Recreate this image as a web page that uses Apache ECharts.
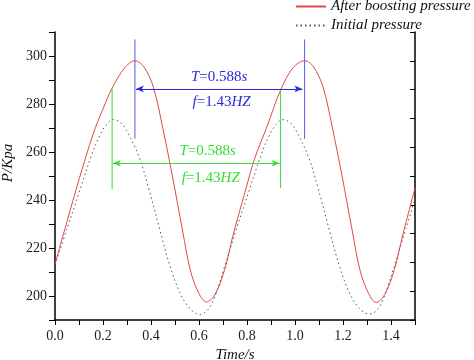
<!DOCTYPE html>
<html>
<head>
<meta charset="utf-8">
<script src="https://cdn.jsdelivr.net/npm/echarts@6/dist/echarts.min.js"></script>
<style>
  html, body { margin: 0; padding: 0; background: #fff; }
  #chart { width: 474px; height: 360px; }
</style>
</head>
<body>
<div id="chart"></div>
<script>
// pressure after boosting (red solid)
const boostTime = [0, 0.05, 0.10, 0.159, 0.20, 0.24, 0.29, 0.333, 0.37, 0.41, 0.45, 0.49, 0.531, 0.564, 0.60, 0.631, 0.666, 0.707, 0.741, 0.791, 0.831, 0.881, 0.941, 0.991, 1.04, 1.077, 1.117, 1.157, 1.197, 1.238, 1.271, 1.307, 1.338, 1.373, 1.414, 1.448, 1.5];
const boostPress = [213.3, 231, 248.5, 267.5, 278, 287, 295, 298, 295.5, 287, 269.5, 249.5, 227.5, 210.7, 201, 197.5, 200.5, 211, 225, 243, 257, 270, 286, 295, 298, 295.5, 287, 269.5, 249.5, 227.5, 210.7, 201, 197.3, 200.5, 211, 225, 245];

// initial pressure (grey dotted)
const initTime = [0, 0.05, 0.10, 0.15, 0.187, 0.215, 0.242, 0.27, 0.298, 0.35, 0.39, 0.437, 0.478, 0.52, 0.56, 0.603, 0.635, 0.665, 0.706, 0.756, 0.806, 0.856, 0.893, 0.921, 0.948, 0.976, 1.004, 1.056, 1.096, 1.143, 1.184, 1.226, 1.266, 1.309, 1.341, 1.371, 1.412, 1.462, 1.5];
const initPress = [213, 228, 243, 258, 267, 271.5, 273.5, 272.5, 269, 258, 245, 227.5, 212.8, 201.5, 195, 192.3, 194, 199.5, 212, 228, 243, 258, 267, 271.5, 273.5, 272.5, 269, 258, 245, 227.5, 212.8, 201.5, 195, 192.5, 194, 199.5, 212, 228, 240.5];

const legendNames = ["After boosting pressure", "Initial pressure"];
const xTickLabels = ["0.0", "0.2", "0.4", "0.6", "0.8", "1.0", "1.2", "1.4"];
const yTickLabels = [200, 220, 240, 260, 280, 300];

// period marks: [t, pressure] in data units
const blueVert = [[[0.333, 306.9], [0.333, 265.5]], [[1.04, 306.9], [1.04, 265.5]]];
const blueArrow = [[0.337, 286.3], [1.031, 286.3]];
const greenVert = [[[0.238, 286.3], [0.238, 244.5]], [[0.94, 286.3], [0.94, 245]]];
const greenArrow = [[0.241, 255.3], [0.936, 255.3]];
const blueText = [[0.684, 291.1], [0.694, 280.8]];
const greenText = [[0.636, 260.3], [0.649, 249.1]];
const periodLabel = "{i|T}{n|=0.588}{i|s}";
const freqLabel = "{i|f}{n|=1.43}{i|HZ}";

const FONT = "Liberation Serif";
const BLUE = "#2a2ad8";
const BLUE_LINE = "#5a5ae0";
const GREEN = "#33dd33";

const zip = (a, b) => a.map((v, i) => [v, b[i]]);

const richStyle = (color) => ({
  i: { fontStyle: "italic", fontFamily: FONT, fontSize: 15, color: color },
  n: { fontStyle: "normal", fontFamily: FONT, fontSize: 15, color: color },
});

const textPoints = (pts, color) =>
  pts.map((p, k) => ({
    coord: p,
    symbol: "circle",
    symbolSize: 0,
    label: {
      show: true,
      position: "inside",
      formatter: k === 0 ? periodLabel : freqLabel,
      rich: richStyle(color),
    },
  }));

const solid = (color) => ({ color: color, width: 1, type: "solid" });

// vertical marker lines as small two-point series
const vertSeries = (segs, color) =>
  segs.map((seg) => ({
    type: "line",
    data: seg,
    symbol: "none",
    silent: true,
    color: color,
    lineStyle: solid(color),
    z: 4,
  }));

const arrowSeries = (seg, color, texts) => ({
  type: "line",
  data: [],
  silent: true,
  color: color,
  markLine: {
    silent: true,
    label: { show: false },
    lineStyle: solid(color),
    data: [
      [
        { coord: seg[0], symbol: "arrow", symbolSize: [5, 8], itemStyle: { color: color } },
        { coord: seg[1], symbol: "arrow", symbolSize: [5, 8], itemStyle: { color: color } },
      ],
    ],
  },
  markPoint: { silent: true, data: textPoints(texts, color) },
  z: 4,
});

const chart = echarts.init(document.getElementById("chart"));

chart.setOption({
  animation: false,
  backgroundColor: "#fff",
  textStyle: { fontFamily: FONT },
  grid: { left: 55, right: 59, top: 32, bottom: 40, containLabel: false, outerBoundsMode: "none" },
  legend: {
    orient: "vertical",
    left: 295,
    top: -1,
    padding: 0,
    itemWidth: 30,
    itemHeight: 14,
    itemGap: 4,
    data: legendNames,
    itemStyle: { opacity: 0 },
    textStyle: { fontFamily: FONT, fontStyle: "italic", fontSize: 15, color: "#111" },
  },
  xAxis: {
    type: "value",
    min: 0,
    max: 1.5,
    interval: 0.1,
    name: "Time/s",
    nameLocation: "middle",
    nameGap: 27,
    nameTextStyle: { fontFamily: FONT, fontStyle: "italic", fontSize: 15, color: "#111" },
    axisLine: { onZero: false, lineStyle: { color: "#000", width: 1.5 } },
    axisTick: { inside: false, length: 5, lineStyle: { color: "#000" } },
    axisLabel: {
      margin: 9,
      fontFamily: FONT,
      fontSize: 14,
      color: "#222",
      formatter: (v) => {
        const s = v.toFixed(1);
        return xTickLabels.includes(s) ? s : "";
      },
    },
    splitLine: { show: false },
  },
  yAxis: [
    {
      type: "value",
      min: 190,
      max: 310,
      interval: 10,
      name: "P/Kpa",
      nameLocation: "middle",
      nameGap: 34,
      nameTextStyle: {
        fontFamily: FONT,
        fontStyle: "italic",
        fontSize: 15,
        color: "#111",
        padding: [0, 0, 0, 26],
      },
      axisLine: { show: true, onZero: false, lineStyle: { color: "#000", width: 1.5 } },
      axisTick: { inside: false, length: 6, lineStyle: { color: "#000" } },
      axisLabel: {
        margin: 8,
        fontFamily: FONT,
        fontSize: 14,
        color: "#222",
        formatter: (v) => (yTickLabels.includes(Math.round(v)) ? String(Math.round(v)) : ""),
      },
      splitLine: { show: false },
    },
    {
      type: "value",
      position: "right",
      min: 190,
      max: 310,
      interval: 12,
      axisLine: { show: true, onZero: false, lineStyle: { color: "#000", width: 1.5 } },
      axisTick: { inside: true, length: 5, lineStyle: { color: "#000" } },
      axisLabel: { show: false },
      splitLine: { show: false },
    },
  ],
  series: [
    {
      name: legendNames[0],
      type: "line",
      data: zip(boostTime, boostPress),
      smooth: 0.35,
      symbol: "none",
      lineStyle: { color: "#e04848", width: 1 },
      itemStyle: { color: "#e04848" },
      z: 3,
    },
    {
      name: legendNames[1],
      type: "line",
      data: zip(initTime, initPress),
      smooth: 0.35,
      symbol: "none",
      lineStyle: { color: "#555", width: 1, type: [1.5, 3] },
      itemStyle: { color: "#555" },
      z: 3,
    },
    ...vertSeries(blueVert, BLUE_LINE),
    ...vertSeries(greenVert, GREEN),
    arrowSeries(blueArrow, BLUE, blueText),
    arrowSeries(greenArrow, GREEN, greenText),
  ],
});
</script>
</body>
</html>
